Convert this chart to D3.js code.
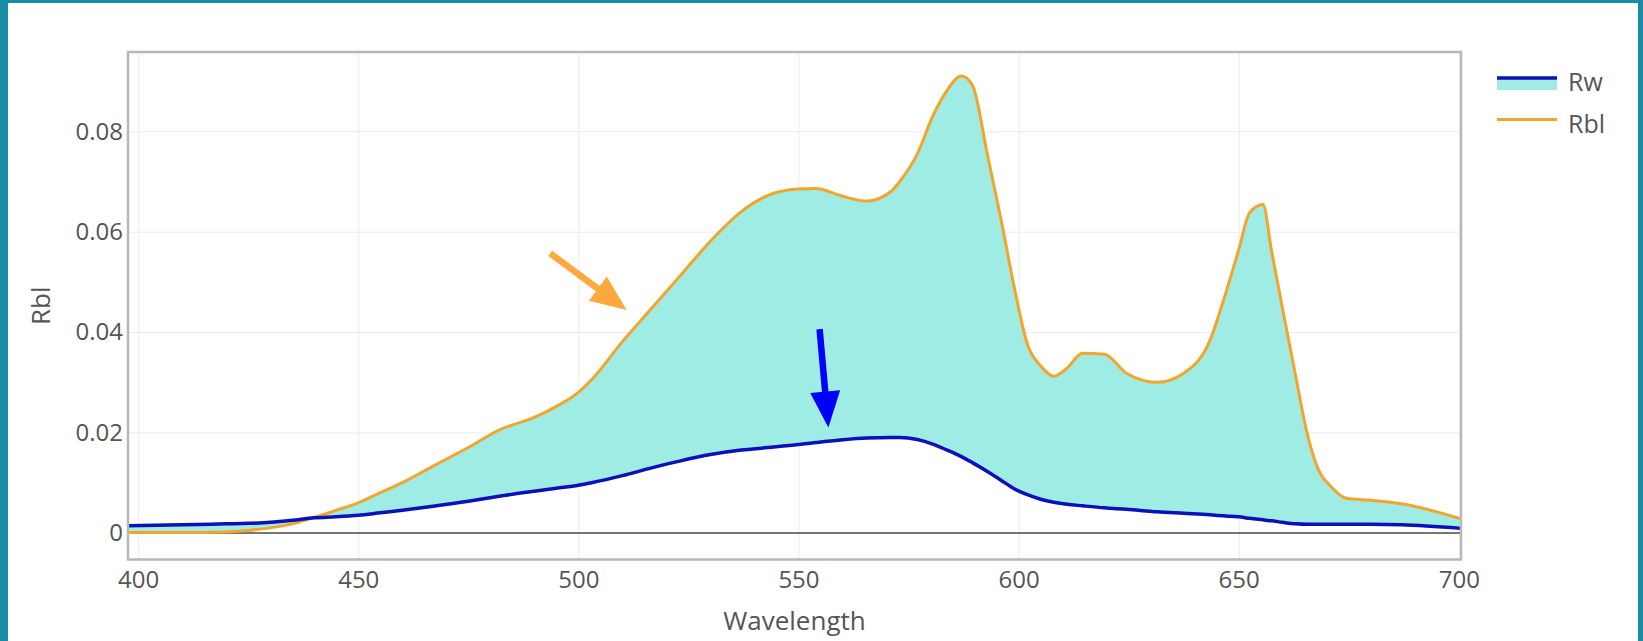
<!DOCTYPE html>
<html lang="en">
	<head>
		<meta charset="utf-8">
		<title>Rw / Rbl</title>
		<script type="text/javascript" src="https://d3js.org/d3.v7.min.js"></script>
		<style type="text/css">
			body { margin: 0; background: #168ca6; }
			text { font-family: "Open Sans", "Liberation Sans", Arial, sans-serif; fill: #555; }
		</style>
	</head>
	<body>
		<script type="text/javascript">

			// data
			var wavelength = [397.7, 410, 420, 425, 430, 435, 440, 445, 450, 455, 460, 467, 475, 482, 490, 495, 500, 503,
				510, 516, 523, 530, 537, 543, 550, 554, 559.5, 565.5, 571, 573, 577, 580.5, 583.5, 587, 589.5, 593, 596,
				599, 602, 605, 608, 611, 614.5, 619.5, 624.5, 631.5, 637.5, 643.5, 646.5, 650, 652.5, 655.5, 657.5, 660,
				663, 665.5, 668, 671, 674.5, 680, 687, 700.5];
			var rbl = [0.0001, 0.0001, 0.0002, 0.0005, 0.0010, 0.0018, 0.0031, 0.0045, 0.0060, 0.0080, 0.0100, 0.0133,
				0.0170, 0.0205, 0.0230, 0.0252, 0.0280, 0.0305, 0.0381, 0.0441, 0.0511, 0.0581, 0.0640, 0.0672, 0.0685,
				0.0686, 0.0672, 0.0661, 0.0680, 0.0700, 0.0755, 0.0830, 0.0878, 0.0910, 0.0892, 0.0750, 0.0625, 0.0490,
				0.0376, 0.0333, 0.0312, 0.0328, 0.0358, 0.0356, 0.0318, 0.0300, 0.0318, 0.0384, 0.0462, 0.0564, 0.0638,
				0.0654, 0.0560, 0.0445, 0.0310, 0.0200, 0.0128, 0.0092, 0.0069, 0.0065, 0.0058, 0.0028];
			var rw = [0.0014, 0.0016, 0.0018, 0.0019, 0.0021, 0.0025, 0.0030, 0.0032, 0.0035, 0.0040, 0.0045, 0.0053,
				0.0063, 0.0073, 0.0083, 0.0089, 0.0095, 0.0100, 0.0114, 0.0128, 0.0143, 0.0156, 0.0165, 0.0170, 0.0176,
				0.0180, 0.0185, 0.0189, 0.0190, 0.0190, 0.0186, 0.0177, 0.0166, 0.0152, 0.0140, 0.0122, 0.0105, 0.0088,
				0.0076, 0.0067, 0.0061, 0.0057, 0.0054, 0.0050, 0.0047, 0.0042, 0.0039, 0.0036, 0.0034, 0.0032, 0.0029,
				0.0026, 0.0024, 0.0021, 0.0018, 0.0017, 0.0017, 0.0017, 0.0017, 0.0017, 0.0016, 0.0009];

			var xTicks = [400, 450, 500, 550, 600, 650, 700];
			var yTicks = [0, 0.02, 0.04, 0.06, 0.08];
			var seriesNames = ["Rw", "Rbl"];

			// hand drawn arrows, in data units: [from wavelength, from value, to wavelength, to value]
			var arrowOrange = [493.6, 0.0557, 511.0, 0.0444];
			var arrowBlue = [554.8, 0.0406, 556.8, 0.0210];

			var colRw = "#0b10b8";
			var colRbl = "#f3a52b";
			var colFill = "#9eece3";

			//Width and height
			var w = 1643;
			var h = 641;
			var plotL = 128, plotR = 1461, plotT = 52, plotB = 559.5;

			var svg = d3.select("body")
						.append("svg")
						.attr("width", w)
						.attr("height", h)
						.style("display", "block");

			svg.append("rect")
				.attr("width", w).attr("height", h)
				.attr("fill", "#168ca6");
			svg.append("rect")
				.attr("x", 8).attr("y", 3)
				.attr("width", 1630).attr("height", h)
				.attr("fill", "#ffffff");

			var x = d3.scaleLinear().domain([397.7, 700.5]).range([plotL, plotR]);
			var y = d3.scaleLinear().domain([-0.0053, 0.0958]).range([plotB, plotT]);

			var data = wavelength.map(function(d, i) { return { w: d, rbl: rbl[i], rw: rw[i] }; });

			// grid
			svg.append("g")
				.attr("transform", "translate(0," + plotB + ")")
				.call(d3.axisBottom(x).tickValues(xTicks).tickSize(-(plotB - plotT)).tickFormat(""))
				.call(function(g) {
					g.select(".domain").remove();
					g.selectAll("line").attr("stroke", "#ebebeb").attr("stroke-width", 1);
				});
			svg.append("g")
				.attr("transform", "translate(" + plotL + ",0)")
				.call(d3.axisLeft(y).tickValues(yTicks).tickSize(-(plotR - plotL)).tickFormat(""))
				.call(function(g) {
					g.select(".domain").remove();
					g.selectAll("line").attr("stroke", "#ebebeb").attr("stroke-width", 1);
				});

			// tick labels
			svg.append("g")
				.attr("transform", "translate(0," + plotB + ")")
				.call(d3.axisBottom(x).tickValues(xTicks).tickSize(0).tickPadding(11).tickFormat(d3.format("d")))
				.call(function(g) {
					g.select(".domain").remove();
					g.selectAll("text").attr("font-size", 24).attr("fill", "#555")
						.attr("font-family", "'Open Sans', 'Liberation Sans', sans-serif");
				});
			svg.append("g")
				.attr("transform", "translate(" + (plotL - 5) + ",0)")
				.call(d3.axisLeft(y).tickValues(yTicks).tickSize(0).tickPadding(0)
					.tickFormat(function(d) { return d === 0 ? "0" : d3.format(".2f")(d); }))
				.call(function(g) {
					g.select(".domain").remove();
					g.selectAll("text").attr("font-size", 24).attr("fill", "#555")
						.attr("font-family", "'Open Sans', 'Liberation Sans', sans-serif");
				});

			// zero line
			svg.append("line")
				.attr("x1", plotL).attr("x2", plotR)
				.attr("y1", y(0)).attr("y2", y(0))
				.attr("stroke", "#4a4a4a").attr("stroke-width", 1.5);

			// fill between the two curves
			var area = d3.area()
				.curve(d3.curveMonotoneX)
				.x(function(d) { return x(d.w); })
				.y0(function(d) { return y(d.rw); })
				.y1(function(d) { return y(d.rbl); });
			svg.append("path")
				.datum(data)
				.attr("d", area)
				.attr("fill", colFill);

			var lineRbl = d3.line().curve(d3.curveMonotoneX)
				.x(function(d) { return x(d.w); })
				.y(function(d) { return y(d.rbl); });
			var lineRw = d3.line().curve(d3.curveMonotoneX)
				.x(function(d) { return x(d.w); })
				.y(function(d) { return y(d.rw); });

			svg.append("path")
				.datum(data)
				.attr("d", lineRbl)
				.attr("fill", "none")
				.attr("stroke", colRbl)
				.attr("stroke-width", 3);
			svg.append("path")
				.datum(data)
				.attr("d", lineRw)
				.attr("fill", "none")
				.attr("stroke", colRw)
				.attr("stroke-width", 3.5);

			// frame
			svg.append("rect")
				.attr("x", plotL).attr("y", plotT)
				.attr("width", plotR - plotL).attr("height", plotB - plotT)
				.attr("fill", "none")
				.attr("stroke", "#b8b8b8")
				.attr("stroke-width", 2.5);

			// axis titles
			svg.append("text")
				.attr("x", (plotL + plotR) / 2)
				.attr("y", 630)
				.attr("text-anchor", "middle")
				.attr("font-size", 26)
				.text("Wavelength");
			svg.append("text")
				.attr("transform", "translate(50," + ((plotT + plotB) / 2) + ") rotate(-90)")
				.attr("text-anchor", "middle")
				.attr("font-size", 26)
				.text("Rbl");

			// legend
			var legend = svg.append("g").attr("transform", "translate(1497,0)");
			legend.append("rect")
				.attr("x", 0).attr("y", 78)
				.attr("width", 60).attr("height", 12)
				.attr("fill", colFill);
			legend.append("line")
				.attr("x1", 0).attr("x2", 60).attr("y1", 78).attr("y2", 78)
				.attr("stroke", colRw).attr("stroke-width", 3.5);
			legend.append("line")
				.attr("x1", 0).attr("x2", 60).attr("y1", 119.5).attr("y2", 119.5)
				.attr("stroke", colRbl).attr("stroke-width", 3);
			legend.selectAll("text.lg")
				.data(seriesNames)
				.enter()
				.append("text")
				.attr("class", "lg")
				.attr("x", 71)
				.attr("y", function(d, i) { return 84 + i * 42; })
				.attr("dominant-baseline", "middle")
				.attr("font-size", 25)
				.text(function(d) { return d; });

			// arrows
			function drawArrow(a, color) {
				var x0 = x(a[0]), y0 = y(a[1]), x1 = x(a[2]), y1 = y(a[3]);
				var ang = Math.atan2(y1 - y0, x1 - x0);
				var headLen = 36, headHalf = 15;
				var bx = x1 - headLen * Math.cos(ang), by = y1 - headLen * Math.sin(ang);
				svg.append("line")
					.attr("x1", x0).attr("y1", y0)
					.attr("x2", bx + 2 * Math.cos(ang)).attr("y2", by + 2 * Math.sin(ang))
					.attr("stroke", color).attr("stroke-width", 6.5);
				var px = -Math.sin(ang), py = Math.cos(ang);
				svg.append("path")
					.attr("d", "M" + x1 + "," + y1 +
						"L" + (bx + px * headHalf) + "," + (by + py * headHalf) +
						"L" + (bx - px * headHalf) + "," + (by - py * headHalf) + "Z")
					.attr("fill", color);
			}
			drawArrow(arrowOrange, "#ffa83e");
			drawArrow(arrowBlue, "#0000ff");

		</script>
	</body>
</html>
